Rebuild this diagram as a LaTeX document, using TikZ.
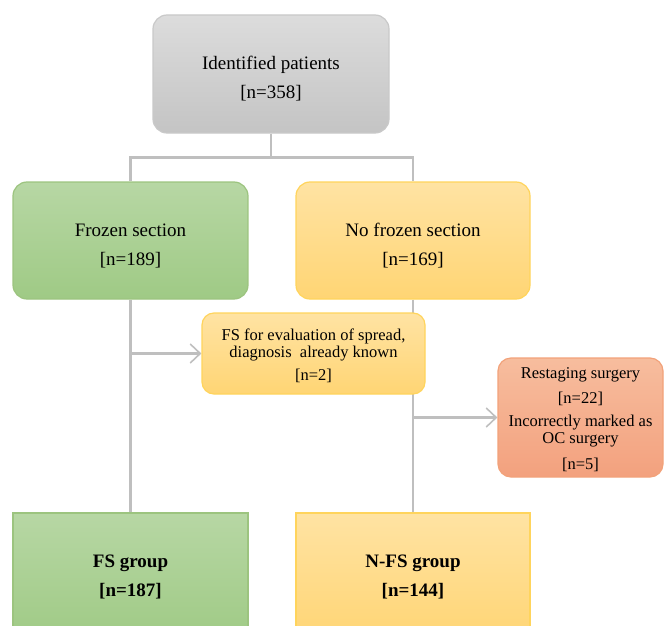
\documentclass[tikz,border=0pt]{standalone}
\usepackage{fontspec}
\setmainfont{Liberation Serif}
\usetikzlibrary{arrows.meta, positioning, backgrounds}
\definecolor{grayline}{HTML}{C9C9C9}
\definecolor{graytop}{HTML}{DCDCDC}
\definecolor{graybot}{HTML}{C4C4C4}
\definecolor{greenline}{HTML}{9CC47F}
\definecolor{greentop}{HTML}{B7D7A4}
\definecolor{greenbot}{HTML}{9FCA85}
\definecolor{orangeline}{HTML}{FFD45C}
\definecolor{orangetop}{HTML}{FFE3A3}
\definecolor{orangebot}{HTML}{FFD574}
\definecolor{redline}{HTML}{F2A27A}
\definecolor{redtop}{HTML}{F7BD9E}
\definecolor{redbot}{HTML}{F3A17E}
\definecolor{connline}{HTML}{BFBFBF}
\newcommand{\topgap}[1]{\rule{0pt}{#1}}

\begin{document}
\begin{tikzpicture}[
  x=1pt, y=-1pt,
  box/.style={rectangle, rounded corners=14pt, line width=1.2pt, align=center, inner sep=0pt, font=\fontsize{19}{29}\selectfont},
  graybox/.style={box, draw=grayline, top color=graytop, bottom color=graybot},
  greenbox/.style={box, draw=greenline, top color=greentop, bottom color=greenbot},
  orangebox/.style={box, draw=orangeline, top color=orangetop, bottom color=orangebot},
  redbox/.style={box, draw=redline, top color=redtop, bottom color=redbot},
  small/.style={font=\fontsize{16.5}{17}\selectfont},
  square/.style={rounded corners=0pt},
  conn/.style={draw=connline, line width=2.4pt},
  arr/.style={-{Straight Barb[length=10pt, width=19pt, line width=1.6pt]}}
]
  \useasboundingbox (0,0) rectangle (664,626);

  % Boxes
  \node[graybox, minimum width=236pt, minimum height=118pt] (pat) at (271, 74) {\topgap{23pt}Identified patients\\{}[n=358]};
  \node[greenbox, minimum width=235pt, minimum height=117pt] (fs) at (130.5, 240.5) {\topgap{23pt}Frozen section\\{}[n=189]};
  \node[orangebox, minimum width=234pt, minimum height=117pt] (nfs) at (413, 240.5) {\topgap{23pt}No frozen section\\{}[n=169]};
  \node[orangebox, small, rounded corners=12pt, minimum width=223pt, minimum height=81pt] (spread) at (313.5, 353.5)
    {\topgap{17pt}FS for evaluation of spread,\\diagnosis~ already known\\[6pt]{}[n=2]};
  \node[redbox, small, rounded corners=13pt, minimum width=165pt, minimum height=119pt] (restage) at (580.5, 417.5)
    {\topgap{15pt}Restaging surgery\\[8pt]{}[n=22]\\[6pt]Incorrectly marked as\\OC surgery\\[9pt]{}[n=5]};
  \node[greenbox, square, minimum width=235pt, minimum height=128pt] (fsg) at (130.5, 577) {\textbf{FS group}\\\textbf{[n=187]}};
  \node[orangebox, square, minimum width=234pt, minimum height=128pt] (nfsg) at (413, 577) {\textbf{N-FS group}\\\textbf{[n=144]}};

  % Connectors
  \begin{scope}[on background layer]
    \draw[conn] (pat.south) -- ++(0, 24) -| (fs.north);
    \draw[conn] (pat.south) -- ++(0, 24) -| (nfs.north);
    \draw[conn] (fs.south) -- (fsg.north);
    \draw[conn] (nfs.south) -- (nfsg.north);
    \draw[conn, arr] (fs.south |- spread.west) -- (spread.west);
    \draw[conn, arr] (nfs.south |- restage.west) -- (restage.west);
  \end{scope}
\end{tikzpicture}
\end{document}
